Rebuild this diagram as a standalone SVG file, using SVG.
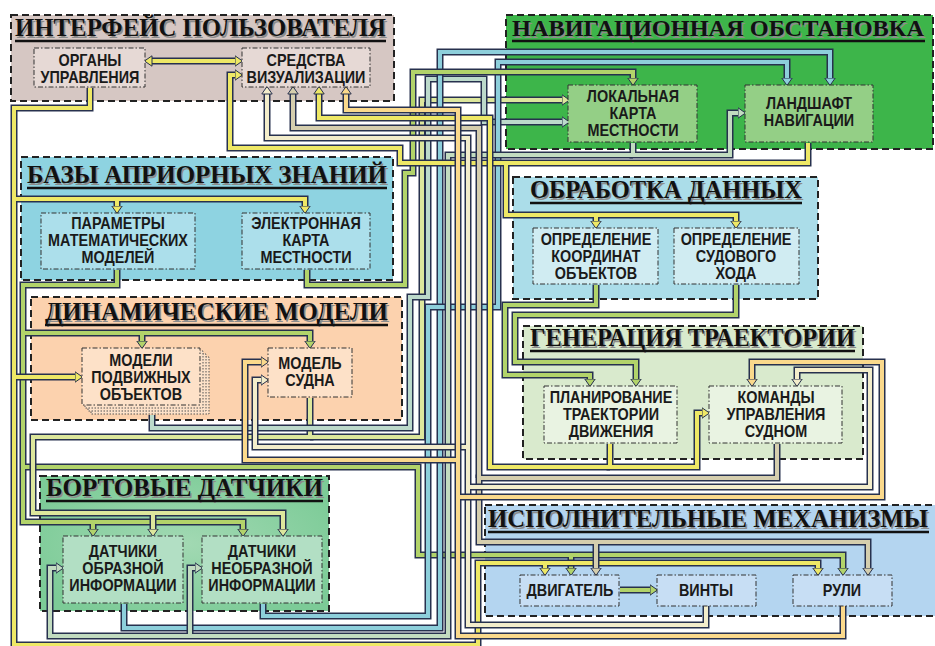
<svg xmlns="http://www.w3.org/2000/svg" width="935" height="646" viewBox="0 0 935 646">
<style>
.ct{stroke:#222;stroke-width:2;stroke-dasharray:7 4}
.nd{stroke:#333;stroke-width:1;stroke-dasharray:5 2 1.5 2}
.tt{font-family:"Liberation Serif","Times New Roman",serif;font-weight:bold;font-size:25px;fill:#111}
.tn{font-size:23px}
.ts{fill:#8c8c8c}
.ul{stroke:#111;stroke-width:2.5}
.nt{font-family:"Liberation Sans",Arial,sans-serif;font-weight:bold;font-size:16px;fill:#1a1a1a;text-anchor:middle}
.o{fill:none;stroke:#27314e;stroke-width:7}
.c{fill:none;stroke-width:4}
.y .c{stroke:#eee866}.y .a{marker-end:url(#my)}.y .ab{marker-start:url(#my);marker-end:url(#my)}
.yg .c{stroke:#b2d36a}.yg .a{marker-end:url(#myg)}
.lg .c{stroke:#dde79c}.lg .a{marker-end:url(#mlg)}
.gb .c{stroke:#bcdacb}.gb .a{marker-end:url(#mgb)}
.lb .c{stroke:#8dcfdb}.lb .a{marker-end:url(#mlb)}
.gg .c{stroke:#c2dcc0}.gg .a{marker-end:url(#mgg)}
.bg .c{stroke:#d5ceae}.bg .a{marker-end:url(#mbg)}
.cr .c{stroke:#f3edcb}.cr .a{marker-end:url(#mcr)}
.or .c{stroke:#fad98c}.or .a{marker-end:url(#mor)}
</style>
<defs>
<radialGradient id="gbort" cx="0.5" cy="0.5" r="0.6"><stop offset="0" stop-color="#a2d9b3"/><stop offset="1" stop-color="#7ccb97"/></radialGradient>
<marker id="my" viewBox="0 0 9 12" refX="0.5" refY="6" markerWidth="9" markerHeight="12" markerUnits="userSpaceOnUse" orient="auto-start-reverse"><path d="M0.5,0.8 L8,6 L0.5,11.2 Z" fill="#eee866" stroke="#27314e" stroke-width="1"/></marker>
<marker id="myg" viewBox="0 0 9 12" refX="0.5" refY="6" markerWidth="9" markerHeight="12" markerUnits="userSpaceOnUse" orient="auto"><path d="M0.5,0.8 L8,6 L0.5,11.2 Z" fill="#b2d36a" stroke="#27314e" stroke-width="1"/></marker>
<marker id="mlg" viewBox="0 0 9 12" refX="0.5" refY="6" markerWidth="9" markerHeight="12" markerUnits="userSpaceOnUse" orient="auto"><path d="M0.5,0.8 L8,6 L0.5,11.2 Z" fill="#dde79c" stroke="#27314e" stroke-width="1"/></marker>
<marker id="mgb" viewBox="0 0 9 12" refX="0.5" refY="6" markerWidth="9" markerHeight="12" markerUnits="userSpaceOnUse" orient="auto"><path d="M0.5,0.8 L8,6 L0.5,11.2 Z" fill="#bcdacb" stroke="#27314e" stroke-width="1"/></marker>
<marker id="mlb" viewBox="0 0 9 12" refX="0.5" refY="6" markerWidth="9" markerHeight="12" markerUnits="userSpaceOnUse" orient="auto"><path d="M0.5,0.8 L8,6 L0.5,11.2 Z" fill="#8dcfdb" stroke="#27314e" stroke-width="1"/></marker>
<marker id="mgg" viewBox="0 0 9 12" refX="0.5" refY="6" markerWidth="9" markerHeight="12" markerUnits="userSpaceOnUse" orient="auto"><path d="M0.5,0.8 L8,6 L0.5,11.2 Z" fill="#c2dcc0" stroke="#27314e" stroke-width="1"/></marker>
<marker id="mbg" viewBox="0 0 9 12" refX="0.5" refY="6" markerWidth="9" markerHeight="12" markerUnits="userSpaceOnUse" orient="auto"><path d="M0.5,0.8 L8,6 L0.5,11.2 Z" fill="#d5ceae" stroke="#27314e" stroke-width="1"/></marker>
<marker id="mcr" viewBox="0 0 9 12" refX="0.5" refY="6" markerWidth="9" markerHeight="12" markerUnits="userSpaceOnUse" orient="auto"><path d="M0.5,0.8 L8,6 L0.5,11.2 Z" fill="#f3edcb" stroke="#27314e" stroke-width="1"/></marker>
<marker id="mor" viewBox="0 0 9 12" refX="0.5" refY="6" markerWidth="9" markerHeight="12" markerUnits="userSpaceOnUse" orient="auto"><path d="M0.5,0.8 L8,6 L0.5,11.2 Z" fill="#fad98c" stroke="#27314e" stroke-width="1"/></marker>
</defs>
<rect width="935" height="646" fill="#fff"/>

<g id="c-interface"><rect class="ct" x="11" y="15" width="383" height="86" fill="#d6c7c3"/><text class="tt ts" x="16.5" y="37.5" textLength="371" lengthAdjust="spacingAndGlyphs">ИНТЕРФЕЙС ПОЛЬЗОВАТЕЛЯ</text><text class="tt" x="15" y="36" textLength="371" lengthAdjust="spacingAndGlyphs">ИНТЕРФЕЙС ПОЛЬЗОВАТЕЛЯ</text><line class="ul" x1="15" y1="41" x2="386" y2="41"/></g>
<g id="c-nav"><rect class="ct" x="506" y="15" width="427" height="134" fill="#3db54a"/><text class="tt tn ts" x="513.5" y="37.5" textLength="412" lengthAdjust="spacingAndGlyphs">НАВИГАЦИОННАЯ ОБСТАНОВКА</text><text class="tt tn" x="512" y="36" textLength="412" lengthAdjust="spacingAndGlyphs">НАВИГАЦИОННАЯ ОБСТАНОВКА</text><line class="ul" x1="512" y1="41" x2="925" y2="41"/></g>
<g id="c-bazy"><rect class="ct" x="21" y="157" width="372" height="123" fill="#8ed3e1"/><text class="tt ts" x="28.5" y="184.5" textLength="360" lengthAdjust="spacingAndGlyphs">БАЗЫ  АПРИОРНЫХ  ЗНАНИЙ</text><text class="tt" x="27" y="183" textLength="360" lengthAdjust="spacingAndGlyphs">БАЗЫ  АПРИОРНЫХ  ЗНАНИЙ</text><line class="ul" x1="27" y1="188" x2="387" y2="188"/></g>
<g id="c-obrab"><rect class="ct" x="513" y="177" width="305" height="122" fill="#abdde9"/><text class="tt ts" x="531.5" y="199.5" textLength="272" lengthAdjust="spacingAndGlyphs">ОБРАБОТКА  ДАННЫХ</text><text class="tt" x="530" y="198" textLength="272" lengthAdjust="spacingAndGlyphs">ОБРАБОТКА  ДАННЫХ</text><line class="ul" x1="530" y1="203" x2="802" y2="203"/></g>
<g id="c-dinam"><rect class="ct" x="31" y="297" width="371" height="123" fill="#fcd2ae"/><text class="tt ts" x="46.5" y="321.5" textLength="343" lengthAdjust="spacingAndGlyphs">ДИНАМИЧЕСКИЕ  МОДЕЛИ</text><text class="tt" x="45" y="320" textLength="343" lengthAdjust="spacingAndGlyphs">ДИНАМИЧЕСКИЕ  МОДЕЛИ</text><line class="ul" x1="45" y1="325" x2="388" y2="325"/></g>
<g id="c-gener"><rect class="ct" x="523" y="326" width="340" height="133" fill="#d9eacd"/><text class="tt ts" x="531.5" y="347.5" textLength="325" lengthAdjust="spacingAndGlyphs">ГЕНЕРАЦИЯ  ТРАЕКТОРИИ</text><text class="tt" x="530" y="346" textLength="325" lengthAdjust="spacingAndGlyphs">ГЕНЕРАЦИЯ  ТРАЕКТОРИИ</text><line class="ul" x1="530" y1="351" x2="855" y2="351"/></g>
<g id="c-bort"><rect class="ct" x="40" y="476" width="289" height="135" fill="url(#gbort)"/><text class="tt ts" x="47.5" y="497.5" textLength="277" lengthAdjust="spacingAndGlyphs">БОРТОВЫЕ  ДАТЧИКИ</text><text class="tt" x="46" y="496" textLength="277" lengthAdjust="spacingAndGlyphs">БОРТОВЫЕ  ДАТЧИКИ</text><line class="ul" x1="46" y1="501" x2="323" y2="501"/></g>
<g id="c-ispoln"><rect class="ct" x="485" y="505" width="460" height="111" fill="#b4d5f0"/><text class="tt ts" x="489.5" y="528.5" textLength="440" lengthAdjust="spacingAndGlyphs">ИСПОЛНИТЕЛЬНЫЕ  МЕХАНИЗМЫ</text><text class="tt" x="488" y="527" textLength="440" lengthAdjust="spacingAndGlyphs">ИСПОЛНИТЕЛЬНЫЕ  МЕХАНИЗМЫ</text><line class="ul" x1="488" y1="532" x2="929" y2="532"/></g>

<g id="connectors">
<g class="y"><path class="o" d="M152,61 H235"/><path class="c ab" d="M152,61 H235"/></g>
<g class="yg"><path class="o" d="M117,270 V285 H23 V522 H243 V529"/><path class="o" d="M23,333 H310 V341"/><path class="o" d="M142,333 V341"/><path class="o" d="M93,522 V529"/><path class="o" d="M23,467 H418 V555 H843 V568"/><path class="o" d="M571,555 V568"/>
<path class="c a" d="M117,270 V285 H23 V522 H243 V529"/><path class="c a" d="M23,333 H310 V341"/><path class="c a" d="M142,333 V341"/><path class="c a" d="M93,522 V529"/><path class="c a" d="M23,467 H418 V555 H843 V568"/><path class="c a" d="M571,555 V568"/></g>
<g class="y"><path class="o" d="M90,88 V108 H14 V645 H478 V563 H818 V568"/><path class="o" d="M14,199 H305 V206"/><path class="o" d="M117,199 V206"/><path class="o" d="M14,377 H75"/><path class="o" d="M545,563 V568"/>
<path class="c a" d="M90,88 V108 H14 V645 H478 V563 H818 V568"/><path class="c a" d="M14,199 H305 V206"/><path class="c a" d="M117,199 V206"/><path class="c a" d="M14,377 H75"/><path class="c a" d="M545,563 V568"/></g>
<g class="lg"><path class="o" d="M310,398 V437 H33 V513 H283 V529"/><path class="o" d="M153,513 V529"/><path class="o" d="M310,437 H422 V100 H562"/>
<path class="c a" d="M310,398 V437 H33 V513 H283 V529"/><path class="c a" d="M153,513 V529"/><path class="c a" d="M310,437 H422 V100 H562"/></g>
<g class="gb"><path class="o" d="M152,415 V428 H410 V297 H428 V79 H484 V122 H562"/><path class="c a" d="M152,415 V428 H410 V297 H428 V79 H484 V122 H562"/></g>
<g class="lb"><path class="o" d="M124,604 V628 H440 V52 H830 V78"/><path class="c a" d="M124,604 V628 H440 V52 H830 V78"/></g>
<g class="lb"><path class="o" d="M263,604 V616 H428 V307 H498 V62 H787 V78"/><path class="c a" d="M263,604 V616 H428 V307 H498 V62 H787 V78"/></g>
<g class="yg"><path class="o" d="M307,270 V285 H405 V173 H413 V72 H633 V78"/><path class="c a" d="M307,270 V285 H405 V173 H413 V72 H633 V78"/></g>
<g class="gg"><path class="o" d="M633,143 V155 H730 V113 H738"/><path class="o" d="M633,155 H448 V636 H50 V568 H56"/><path class="o" d="M190,636 V568 H195"/>
<path class="c a" d="M633,143 V155 H730 V113 H738"/><path class="c a" d="M633,155 H448 V636 H50 V568 H56"/><path class="c a" d="M190,636 V568 H195"/></g>
<g class="y"><path class="o" d="M808,143 V163 H400 V148 H230 V75 H235"/><path class="o" d="M506,163 V215 H736 V221"/><path class="o" d="M596,215 V221"/>
<path class="c a" d="M808,143 V163 H400 V148 H230 V75 H235"/><path class="c a" d="M506,163 V215 H736 V221"/><path class="c a" d="M596,215 V221"/></g>
<g class="yg"><path class="o" d="M596,285 V305 H505 V375 H590 V379"/><path class="c a" d="M596,285 V305 H505 V375 H590 V379"/></g>
<g class="yg"><path class="o" d="M736,285 V315 H515 V362 H636 V379"/><path class="c a" d="M736,285 V315 H515 V362 H636 V379"/></g>
<g class="y"><path class="o" d="M610,444 V467 H697 V413 H702"/><path class="o" d="M610,467 H490 V118 H319 V94"/>
<path class="c a" d="M610,444 V467 H697 V413 H702"/><path class="c a" d="M610,467 H490 V118 H319 V94"/></g>
<g class="bg"><path class="o" d="M777,444 V478 H479 V542 H868 V568"/><path class="o" d="M596,542 V568"/><path class="o" d="M479,478 V128 H293 V94"/>
<path class="c a" d="M777,444 V478 H479 V542 H868 V568"/><path class="c a" d="M596,542 V568"/><path class="c a" d="M479,478 V128 H293 V94"/></g>
<g class="cr"><path class="o" d="M706,606 V625 H468 V138 H267 V94"/><path class="o" d="M468,447 H255 V380 H261"/><path class="o" d="M468,487 H870 V370 H797 V379"/>
<path class="c a" d="M706,606 V625 H468 V138 H267 V94"/><path class="c a" d="M468,447 H255 V380 H261"/><path class="c a" d="M468,487 H870 V370 H797 V379"/></g>
<g class="or"><path class="o" d="M843,606 V636 H458 V110 H346 V94"/><path class="o" d="M458,460 H245 V362 H261"/><path class="o" d="M458,497 H882 V362 H752 V379"/>
<path class="c a" d="M843,606 V636 H458 V110 H346 V94"/><path class="c a" d="M458,460 H245 V362 H261"/><path class="c a" d="M458,497 H882 V362 H752 V379"/></g>
<g class="yg"><path class="o" d="M620,590 H650"/><path class="c a" d="M620,590 H650"/></g>
</g>

<g id="n-organy"><rect class="nd" x="34" y="48" width="111" height="39" fill="#e6d9d5"/><g transform="matrix(0.9,0,0,1,9,0)"><text class="nt" x="90" y="66">ОРГАНЫ</text><text class="nt" x="90" y="83">УПРАВЛЕНИЯ</text></g></g>
<g id="n-sredstva"><rect class="nd" x="242" y="48" width="128" height="39" fill="#e6d9d5"/><g transform="matrix(0.9,0,0,1,30.6,0)"><text class="nt" x="306" y="66">СРЕДСТВА</text><text class="nt" x="306" y="83">ВИЗУАЛИЗАЦИИ</text></g></g>
<g id="n-lokal"><rect class="nd" x="568" y="85" width="129" height="57" fill="#94cf86"/><g transform="matrix(0.9,0,0,1,63.3,0)"><text class="nt" x="633" y="102">ЛОКАЛЬНАЯ</text><text class="nt" x="633" y="119">КАРТА</text><text class="nt" x="633" y="136">МЕСТНОСТИ</text></g></g>
<g id="n-landshaft"><rect class="nd" x="745" y="85" width="128" height="57" fill="#94cf86"/><g transform="matrix(0.9,0,0,1,80.9,0)"><text class="nt" x="809" y="109">ЛАНДШАФТ</text><text class="nt" x="809" y="126">НАВИГАЦИИ</text></g></g>
<g id="n-param"><rect class="nd" x="41" y="213" width="154" height="56" fill="#acdfeb"/><g transform="matrix(0.9,0,0,1,11.8,0)"><text class="nt" x="118" y="229">ПАРАМЕТРЫ</text><text class="nt" x="118" y="246">МАТЕМАТИЧЕСКИХ</text><text class="nt" x="118" y="263">МОДЕЛЕЙ</text></g></g>
<g id="n-ekarta"><rect class="nd" x="242" y="213" width="128" height="56" fill="#acdfeb"/><g transform="matrix(0.9,0,0,1,30.6,0)"><text class="nt" x="306" y="229">ЭЛЕКТРОННАЯ</text><text class="nt" x="306" y="246">КАРТА</text><text class="nt" x="306" y="263">МЕСТНОСТИ</text></g></g>
<g id="n-opr-koord"><rect class="nd" x="533" y="228" width="125" height="56" fill="#d0ecf2"/><g transform="matrix(0.9,0,0,1,59.6,0)"><text class="nt" x="596" y="245">ОПРЕДЕЛЕНИЕ</text><text class="nt" x="596" y="262">КООРДИНАТ</text><text class="nt" x="596" y="279">ОБЪЕКТОВ</text></g></g>
<g id="n-opr-hod"><rect class="nd" x="674" y="228" width="125" height="56" fill="#d0ecf2"/><g transform="matrix(0.9,0,0,1,73.6,0)"><text class="nt" x="736" y="245">ОПРЕДЕЛЕНИЕ</text><text class="nt" x="736" y="262">СУДОВОГО</text><text class="nt" x="736" y="279">ХОДА</text></g></g>
<g id="n-modeli"><rect x="91" y="357" width="118" height="57" fill="#fde1c8" stroke="#555" stroke-width="1" stroke-dasharray="1.5 1.5"/><rect x="88" y="354" width="118" height="57" fill="#fde1c8" stroke="#555" stroke-width="1" stroke-dasharray="1.5 1.5"/><rect x="85" y="351" width="118" height="57" fill="#fde1c8" stroke="#555" stroke-width="1" stroke-dasharray="1.5 1.5"/><rect class="nd" x="82" y="348" width="118" height="57" fill="#fde1c8"/><g transform="matrix(0.9,0,0,1,14.1,0)"><text class="nt" x="141" y="366">МОДЕЛИ</text><text class="nt" x="141" y="383">ПОДВИЖНЫХ</text><text class="nt" x="141" y="400">ОБЪЕКТОВ</text></g></g>
<g id="n-model-sudna"><rect class="nd" x="268" y="348" width="84" height="49" fill="#fde1c8"/><g transform="matrix(0.9,0,0,1,31,0)"><text class="nt" x="310" y="369">МОДЕЛЬ</text><text class="nt" x="310" y="386">СУДНА</text></g></g>
<g id="n-plan"><rect class="nd" x="544" y="386" width="133" height="57" fill="#e9f3e2"/><g transform="matrix(0.9,0,0,1,61.1,0)"><text class="nt" x="611" y="403">ПЛАНИРОВАНИЕ</text><text class="nt" x="611" y="420">ТРАЕКТОРИИ</text><text class="nt" x="611" y="437">ДВИЖЕНИЯ</text></g></g>
<g id="n-komandy"><rect class="nd" x="709" y="386" width="133" height="57" fill="#e9f3e2"/><g transform="matrix(0.9,0,0,1,77.6,0)"><text class="nt" x="776" y="403">КОМАНДЫ</text><text class="nt" x="776" y="420">УПРАВЛЕНИЯ</text><text class="nt" x="776" y="437">СУДНОМ</text></g></g>
<g id="n-dat-obr"><rect class="nd" x="63" y="536" width="120" height="67" fill="#b2dfc4"/><g transform="matrix(0.9,0,0,1,12.3,0)"><text class="nt" x="123" y="557">ДАТЧИКИ</text><text class="nt" x="123" y="574">ОБРАЗНОЙ</text><text class="nt" x="123" y="591">ИНФОРМАЦИИ</text></g></g>
<g id="n-dat-neobr"><rect class="nd" x="202" y="536" width="120" height="67" fill="#b2dfc4"/><g transform="matrix(0.9,0,0,1,26.2,0)"><text class="nt" x="262" y="557">ДАТЧИКИ</text><text class="nt" x="262" y="574">НЕОБРАЗНОЙ</text><text class="nt" x="262" y="591">ИНФОРМАЦИИ</text></g></g>
<g id="n-dvigatel"><rect class="nd" x="520" y="575" width="99" height="31" fill="#c7def4"/><g transform="matrix(0.9,0,0,1,57,0)"><text class="nt" x="570" y="596">ДВИГАТЕЛЬ</text></g></g>
<g id="n-vinty"><rect class="nd" x="657" y="575" width="99" height="31" fill="#c7def4"/><g transform="matrix(0.9,0,0,1,70.6,0)"><text class="nt" x="706" y="596">ВИНТЫ</text></g></g>
<g id="n-ruli"><rect class="nd" x="793" y="575" width="99" height="31" fill="#c7def4"/><g transform="matrix(0.9,0,0,1,84.2,0)"><text class="nt" x="842" y="596">РУЛИ</text></g></g>
</svg>
